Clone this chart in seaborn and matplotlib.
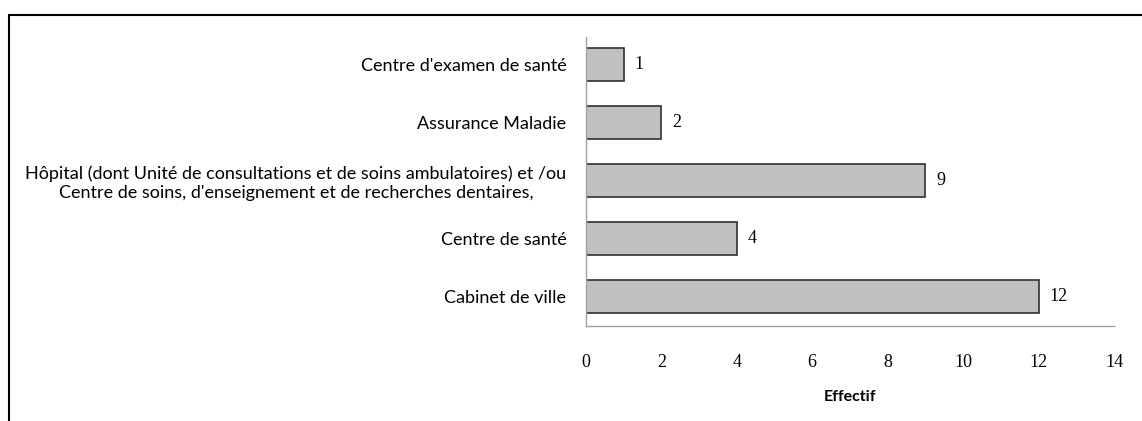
import numpy as np
import pandas as pd
import seaborn as sns
import matplotlib.pyplot as plt
from matplotlib.lines import Line2D

categories = [
    "Centre d'examen de santé",
    "Assurance Maladie",
    "Hôpital (dont Unité de consultations et de soins ambulatoires) et /ou\n"
    "Centre de soins, d'enseignement et de recherches dentaires,",
    "Centre de santé",
    "Cabinet de ville",
]
effectif = [1, 2, 9, 4, 12]
x_ticks = [0, 2, 4, 6, 8, 10, 12, 14]

sns.set_theme(style='white')
plt.rcParams['font.family'] = ['Lato', 'DejaVu Sans']
plt.rcParams['text.color'] = 'black'
plt.rcParams['xtick.color'] = 'black'
plt.rcParams['ytick.color'] = 'black'
plt.rcParams['axes.labelcolor'] = 'black'

df = pd.DataFrame({'categorie': categories, 'effectif': effectif})

fig = plt.figure(figsize=(11.42, 4.21), dpi=100)
ax = fig.add_axes([0.513, 0.2257, 0.4625, 0.6863])
sns.barplot(data=df, x='effectif', y='categorie', orient='h', color='#c0c0c0',
            saturation=1, width=0.57, edgecolor='#303030', linewidth=1.2, ax=ax)

for p, v in zip(ax.patches, effectif):
    ax.text(p.get_width() + 0.3, p.get_y() + p.get_height() / 2, str(v),
            va='center', ha='left', fontsize=13, family='Liberation Serif')

ax.set_xlim(0, 14)
ax.set_ylim(4.51, -0.47)
ax.set_xticks(x_ticks)
ax.set_xticklabels([str(t) for t in x_ticks], family='Liberation Serif', fontsize=13)
ax.tick_params(axis='both', length=0)
ax.tick_params(axis='x', pad=20)
ax.tick_params(axis='y', labelsize=13, pad=14)
for lbl in ax.get_yticklabels():
    lbl.set_multialignment('center')
ax.set_ylabel('')
ax.set_xlabel('Effectif', fontsize=11.5, fontweight='bold', labelpad=14)

for s in ['top', 'right']:
    ax.spines[s].set_visible(False)
for s in ['left', 'bottom']:
    ax.spines[s].set_color('#a0a0a0')
    ax.spines[s].set_linewidth(1)

# outer frame (only left and top edges are inside the image)
fig.add_artist(Line2D([0.0079, 0.0079], [0.964, 0.0], transform=fig.transFigure,
                      color='black', lw=1.5))
fig.add_artist(Line2D([0.0079, 1.0], [0.964, 0.964], transform=fig.transFigure,
                      color='black', lw=1.5))

fig.savefig('out.png', dpi=100)
